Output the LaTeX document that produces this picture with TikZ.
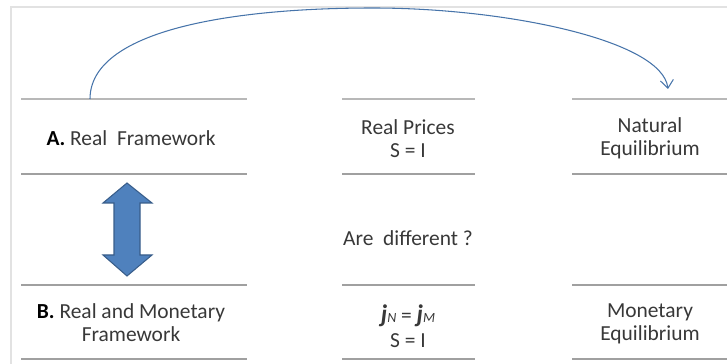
\documentclass[tikz,border=0pt]{standalone}
\usepackage{fontspec}
\setmainfont{Carlito}
\usepackage{xcolor}
\usepackage{tikz}
\usetikzlibrary{arrows.meta,positioning,calc}
\definecolor{txtgray}{HTML}{383838}
\definecolor{rulegray}{HTML}{A0A0A0}
\definecolor{framegray}{HTML}{E2E2E2}
\definecolor{officeblue}{HTML}{4F81BD}
\definecolor{officeline}{HTML}{385D8A}
\tikzset{
  cellnode/.style={align=center, text=txtgray, font=\fontsize{12.2}{13}\selectfont, inner sep=0pt},
  rulebar/.style={draw=rulegray, line width=0.8pt},
  toprule/.style={draw=rulegray!75, line width=1.2pt},
  bigarrow/.style={fill=officeblue, draw=officeline, line width=0.6pt, line join=miter},
  linkarc/.style={-{Straight Barb[length=1.6mm, width=2.6mm]}, draw=officeblue!90!black, line width=0.6pt}
}

\begin{document}
\begin{tikzpicture}[x=0.02cm, y=-0.02cm]
  \useasboundingbox (0,0) rectangle (727,364);
  \draw[framegray, line width=1.2pt] (11,364) -- (11,7) -- (727,7);

  % horizontal rules
  \draw[toprule] (21,99) -- (247,99);
  \draw[toprule] (342,99) -- (475,99);
  \draw[toprule] (572,99) -- (727,99);
  \foreach \yy in {174,285,359} {
    \draw[rulebar] (21,\yy) -- (247,\yy);
    \draw[rulebar] (342,\yy) -- (475,\yy);
    \draw[rulebar] (572,\yy) -- (727,\yy);
  }

  % row A
  \node[cellnode] (reala) at (131,138) {\textbf{\color{black}A.} Real~~Framework};
  \node[cellnode] (prices) at (408,139) {Real Prices\\S = I};
  \node[cellnode] (natural) at (650,138) {Natural\\Equilibrium};

  % middle
  \node[cellnode] (differ) at (408,238) {Are~~different ?};

  % row B
  \node[cellnode] (realb) at (131,323) {\textbf{\color{black}B.} Real and Monetary\\Framework};
  \node[cellnode] (rates) at (408,326) {{\Large\textbf{\textit{j}}}{\footnotesize\textit{N}} = {\Large\textbf{\textit{j}}}{\footnotesize\textit{M}}\\[1pt]S = I};
  \node[cellnode] (monetary) at (650,324) {Monetary\\Equilibrium};

  % double arrow between A and B
  \draw[bigarrow] (127,183) -- (152,203) -- (140,203) -- (140,255) -- (152,255)
    -- (127,276) -- (103,255) -- (114,255) -- (114,203) -- (103,203) -- cycle;

  % arc from A to natural equilibrium
  \coordinate (src) at (90,99);
  \coordinate (peak) at (373,8);
  \coordinate (dst) at (668,89);
  \draw[linkarc] (src) .. controls (90,32) and (225,8) .. (peak)
    .. controls (505,8) and (662,40) .. (dst);
\end{tikzpicture}
\end{document}
